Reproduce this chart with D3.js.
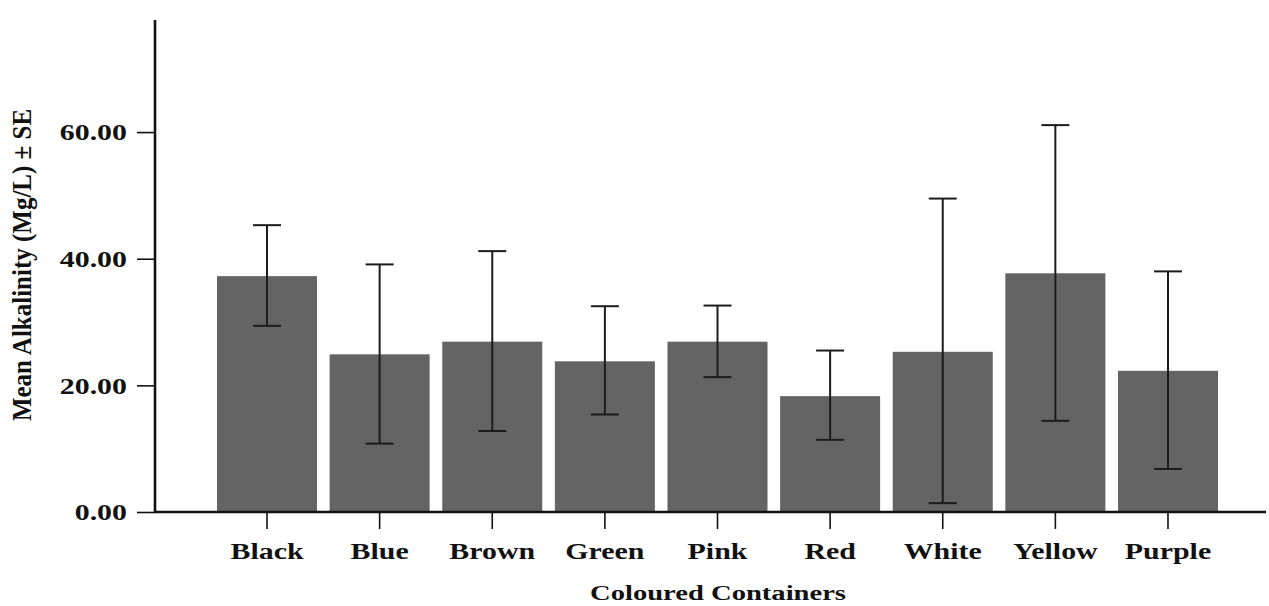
<!DOCTYPE html>
<html>
<head>
<meta charset="utf-8">
<script src="https://cdn.jsdelivr.net/npm/d3@7"></script>
<style>
  body { margin: 0; background: #fff; }
  text { font-family: "Liberation Serif", "Times New Roman", serif; font-weight: bold; fill: #111; }
</style>
</head>
<body>
<svg id="chart" width="1269" height="606"></svg>
<script>
// containers and alkalinity values (mean with SE bounds)
var containers = ['Black', 'Blue', 'Brown', 'Green', 'Pink', 'Red', 'White', 'Yellow', 'Purple'];
var means = [37.25, 24.9, 26.9, 23.8, 26.9, 18.3, 25.3, 37.7, 22.3];
var seHigh = [45.3, 39.1, 41.2, 32.5, 32.6, 25.5, 49.5, 61.1, 38.0];
var seLow = [29.4, 10.8, 12.8, 15.4, 21.3, 11.4, 1.4, 14.4, 6.8];
var yTicks = [0, 20, 40, 60];

var svg = d3.select('#chart');

// layout of the plot area
var axisX = 155, axisRight = 1266;
var baseY = 512, topY = 20;
var stretch = 1.3; // text in the figure is horizontally stretched

var y = d3.scaleLinear()
    .domain([0, 77.7])
    .range([baseY, topY]);

var x = d3.scaleBand()
    .domain(containers)
    .range([210.7, 1224.3])
    .paddingInner(0.112)
    .paddingOuter(0.056);

var rows = containers.map(function(c, i) {
    return { name: c, mean: means[i], hi: seHigh[i], lo: seLow[i] };
});

// bars
svg.append('g').selectAll('rect')
    .data(rows)
    .enter()
    .append('rect')
    .attr('x', function(d) { return x(d.name); })
    .attr('y', function(d) { return y(d.mean); })
    .attr('width', x.bandwidth())
    .attr('height', function(d) { return y(0) - y(d.mean); })
    .attr('fill', '#646464');

// error bars
var err = svg.append('g')
    .attr('stroke', '#1c1c1c')
    .attr('stroke-width', 2);

var capHalf = 14;
rows.forEach(function(d) {
    var cx = x(d.name) + x.bandwidth() / 2;
    err.append('line')
        .attr('x1', cx).attr('x2', cx)
        .attr('y1', y(d.hi)).attr('y2', y(d.lo));
    err.append('line')
        .attr('x1', cx - capHalf).attr('x2', cx + capHalf)
        .attr('y1', y(d.hi)).attr('y2', y(d.hi));
    err.append('line')
        .attr('x1', cx - capHalf).attr('x2', cx + capHalf)
        .attr('y1', y(d.lo)).attr('y2', y(d.lo));
});

// y axis
var yAxis = svg.append('g')
    .attr('transform', 'translate(' + axisX + ',0)')
    .call(d3.axisLeft(y)
        .tickValues(yTicks)
        .tickSize(18)
        .tickSizeOuter(0)
        .tickFormat(d3.format('.2f')));

yAxis.select('.domain').remove();
yAxis.selectAll('.tick line')
    .attr('stroke', '#111')
    .attr('stroke-width', 1.6);
yAxis.selectAll('.tick text')
    .attr('x', 0)
    .attr('dy', '0.34em')
    .attr('transform', 'translate(-28,0) scale(' + stretch + ',1)')
    .style('font-size', '23px')
    .style('font-family', '"Liberation Serif", serif');

// x axis
var xAxis = svg.append('g')
    .attr('transform', 'translate(0,' + baseY + ')')
    .call(d3.axisBottom(x).tickSize(17).tickSizeOuter(0));

xAxis.select('.domain').remove();
xAxis.selectAll('.tick line')
    .attr('stroke', '#111')
    .attr('stroke-width', 1.6);
xAxis.selectAll('.tick text')
    .attr('y', 0)
    .attr('dy', 0)
    .attr('transform', 'translate(0,47) scale(' + stretch + ',1)')
    .style('font-size', '23px')
    .style('font-family', '"Liberation Serif", serif');

// axis lines drawn on top of bars
svg.append('line')
    .attr('x1', axisX).attr('x2', axisX)
    .attr('y1', topY).attr('y2', baseY + 1)
    .attr('stroke', '#111')
    .attr('stroke-width', 2.6);

svg.append('line')
    .attr('x1', axisX - 1).attr('x2', axisRight)
    .attr('y1', baseY).attr('y2', baseY)
    .attr('stroke', '#111')
    .attr('stroke-width', 2.6);

// titles
svg.append('text')
    .attr('transform', 'translate(718,600) scale(' + stretch + ',1)')
    .attr('text-anchor', 'middle')
    .style('font-size', '22px')
    .text('Coloured Containers');

svg.append('text')
    .attr('transform', 'translate(31,265) rotate(-90) scale(1,1.1)')
    .attr('text-anchor', 'middle')
    .style('font-size', '25px')
    .text('Mean Alkalinity (Mg/L) ± SE');
</script>
</body>
</html>
